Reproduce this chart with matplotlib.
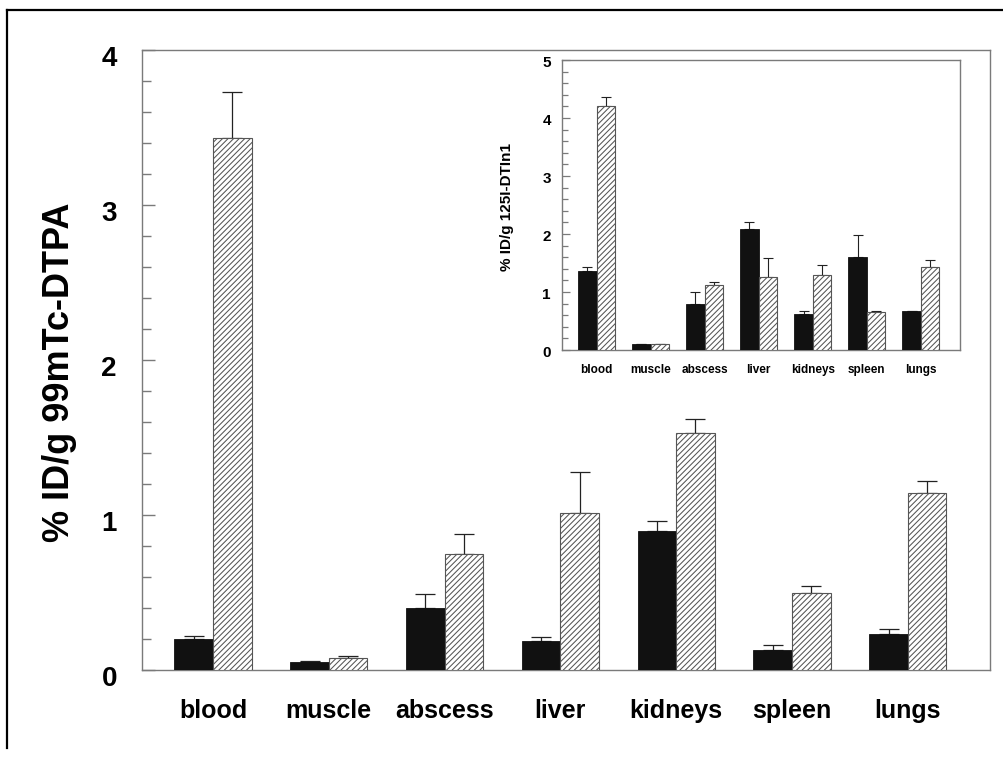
import matplotlib
matplotlib.use("Agg")
import matplotlib.pyplot as plt
import matplotlib.transforms as mtransforms
from matplotlib.lines import Line2D
import numpy as np

plt.rcParams['font.family'] = ['Liberation Sans', 'DejaVu Sans']
plt.rcParams['font.weight'] = 'bold'
plt.rcParams['hatch.linewidth'] = 0.75

# ---------------- data ----------------
categories = ['blood', 'muscle', 'abscess', 'liver', 'kidneys', 'spleen', 'lungs']

main_black = [0.20, 0.05, 0.40, 0.19, 0.90, 0.13, 0.23]
main_black_err = [0.02, 0.006, 0.09, 0.02, 0.06, 0.03, 0.033]
main_hatch = [3.43, 0.08, 0.75, 1.015, 1.53, 0.50, 1.14]
main_hatch_err = [0.30, 0.01, 0.125, 0.26, 0.09, 0.04, 0.08]

inset_black = [1.36, 0.10, 0.80, 2.09, 0.625, 1.60, 0.67]
inset_black_err = [0.07, 0.0, 0.20, 0.12, 0.045, 0.39, 0.0]
inset_hatch = [4.21, 0.10, 1.12, 1.26, 1.30, 0.66, 1.43]
inset_hatch_err = [0.16, 0.0, 0.06, 0.33, 0.16, 0.01, 0.12]

main_ylabel = '% ID/g 99mTc-DTPA'
inset_ylabel = '% ID/g 125I-DTIn1'

W, H = 1004, 757
fig = plt.figure(figsize=(W / 100, H / 100), dpi=100)
fig.patch.set_facecolor('white')

SPINE = '#7a7a7a'


def px_axes(l, t, r, b):
    return [l / W, 1 - b / H, (r - l) / W, (b - t) / H]


def draw_bars(ax, black, berr, hatch, herr, width, capsize, elw):
    x = np.arange(len(categories))
    ax.bar(x - width / 2, black, width, color='#111111', edgecolor='#111111',
           linewidth=0.6, zorder=3)
    ax.bar(x + width / 2, hatch, width, color='white', edgecolor='#555555',
           hatch='//////', linewidth=0.8, zorder=3)
    ax.errorbar(x - width / 2, black, yerr=[np.zeros(len(black)), berr],
                fmt='none', ecolor='#222222', elinewidth=elw, capsize=capsize,
                capthick=elw, zorder=2)
    ax.errorbar(x + width / 2, hatch, yerr=[np.zeros(len(hatch)), herr],
                fmt='none', ecolor='#222222', elinewidth=elw, capsize=capsize,
                capthick=elw, zorder=2)
    ax.set_xticks(x)
    ax.set_xticklabels(categories)
    for s in ax.spines.values():
        s.set_color(SPINE)
        s.set_linewidth(1.0)


# ---------------- main axes ----------------
ax = fig.add_axes(px_axes(142, 50, 990, 670))
draw_bars(ax, main_black, main_black_err, main_hatch, main_hatch_err,
          0.333, 7.5, 0.9)
ax.set_xlim(-0.613, 6.71)
ax.set_ylim(0, 4)
ax.set_yticks([0, 1, 2, 3, 4])
ax.set_yticks(np.arange(0, 4.01, 0.2), minor=True)
ax.tick_params(axis='y', which='major', direction='in', length=9, width=1,
               color=SPINE, labelsize=20, pad=18)
ax.tick_params(axis='y', which='minor', direction='in', length=6.5, width=1,
               color=SPINE)
ax.tick_params(axis='x', length=0, labelsize=18, pad=21)
off = mtransforms.ScaledTranslation(0, -6 / 100, fig.dpi_scale_trans)
for lab in ax.get_yticklabels():
    lab.set_transform(lab.get_transform() + off)
    lab.set_fontweight('bold')
for lab in ax.get_xticklabels():
    lab.set_fontweight('bold')

fig.text(60 / W, 1 - 372 / H, main_ylabel, rotation=90, ha='center',
         va='center', fontsize=26, fontweight='bold')

# ---------------- inset axes ----------------
ax2 = fig.add_axes(px_axes(562, 60, 960, 350))
ax2.set_facecolor('white')
draw_bars(ax2, inset_black, inset_black_err, inset_hatch, inset_hatch_err,
          0.34, 3.8, 0.8)
ax2.set_xlim(-0.642, 6.728)
ax2.set_ylim(0, 5)
ax2.set_yticks([0, 1, 2, 3, 4, 5])
ax2.set_yticks(np.arange(0, 5.01, 0.2), minor=True)
ax2.tick_params(axis='y', which='major', direction='in', length=6, width=0.9,
                color=SPINE, labelsize=11, pad=8)
ax2.tick_params(axis='y', which='minor', direction='in', length=4, width=0.9,
                color=SPINE)
ax2.tick_params(axis='x', length=0, labelsize=8.5, pad=10)
off2 = mtransforms.ScaledTranslation(0, -2 / 100, fig.dpi_scale_trans)
for lab in ax2.get_yticklabels():
    lab.set_transform(lab.get_transform() + off2)
    lab.set_fontweight('bold')
for lab in ax2.get_xticklabels():
    lab.set_fontweight('bold')

fig.text(507 / W, 1 - 207 / H, inset_ylabel, rotation=90, ha='center',
         va='center', fontsize=11, fontweight='bold')

# ---------------- outer frame (left and top only) ----------------
fig.add_artist(Line2D([7 / W, 7 / W], [1 - 10 / H, 1 - 748 / H],
                      transform=fig.transFigure, color='black', linewidth=1.6))
fig.add_artist(Line2D([7 / W, 1.0], [1 - 10 / H, 1 - 10 / H],
                      transform=fig.transFigure, color='black', linewidth=1.6))

fig.savefig('out.png', dpi=100, facecolor='white')
